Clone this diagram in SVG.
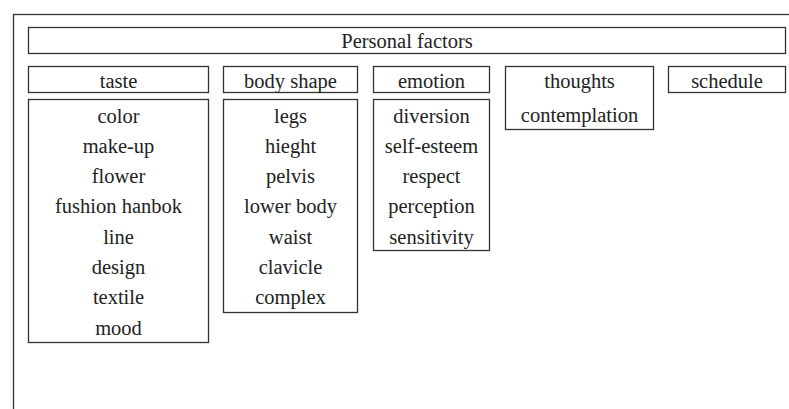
<svg xmlns="http://www.w3.org/2000/svg" width="789" height="409" viewBox="0 0 789 409">
  <style>
    .box { fill: #ffffff; stroke: #333333; stroke-width: 1.3; }
    text { font-size: 20.5px; fill: #222222; text-anchor: middle; }
  </style>
  <rect width="789" height="409" fill="#ffffff"/>
  <!-- outer frame, runs off the right and bottom edges -->
  <rect x="13.5" y="14.5" width="820" height="430" fill="none" stroke="#333333" stroke-width="1.3"/>

  <g font-family="Liberation Serif, DejaVu Serif, serif">
  <g id="personal-factors">
    <rect class="box" x="28.5" y="27.5" width="757" height="26"/>
    <text x="407" y="48">Personal factors</text>
  </g>

  <g id="taste">
    <rect class="box" x="28.5" y="66.5" width="180" height="26"/>
    <text x="118.5" y="88">taste</text>
  </g>
  <g id="taste-items">
    <rect class="box" x="28.5" y="99.5" width="180" height="243"/>
    <text x="118.5" y="122.5">color</text>
    <text x="118.5" y="152.8">make-up</text>
    <text x="118.5" y="183.1">flower</text>
    <text x="118.5" y="213.4">fushion hanbok</text>
    <text x="118.5" y="243.7">line</text>
    <text x="118.5" y="274">design</text>
    <text x="118.5" y="304.3">textile</text>
    <text x="118.5" y="334.6">mood</text>
  </g>

  <g id="body-shape">
    <rect class="box" x="223.5" y="66.5" width="134" height="26"/>
    <text x="290.5" y="88">body shape</text>
  </g>
  <g id="body-shape-items">
    <rect class="box" x="223.5" y="99.5" width="134" height="213"/>
    <text x="290.5" y="122.5">legs</text>
    <text x="290.5" y="152.8">hieght</text>
    <text x="290.5" y="183.1">pelvis</text>
    <text x="290.5" y="213.4">lower body</text>
    <text x="290.5" y="243.7">waist</text>
    <text x="290.5" y="274">clavicle</text>
    <text x="290.5" y="304.3">complex</text>
  </g>

  <g id="emotion">
    <rect class="box" x="373.5" y="66.5" width="116" height="26"/>
    <text x="431.5" y="88">emotion</text>
  </g>
  <g id="emotion-items">
    <rect class="box" x="373.5" y="99.5" width="116" height="151"/>
    <text x="431.5" y="122.5">diversion</text>
    <text x="431.5" y="152.8">self-esteem</text>
    <text x="431.5" y="183.1">respect</text>
    <text x="431.5" y="213.4">perception</text>
    <text x="431.5" y="243.7">sensitivity</text>
  </g>

  <g id="thoughts">
    <rect class="box" x="505.5" y="66.5" width="148" height="63"/>
    <text x="579.5" y="88">thoughts</text>
    <text x="579.5" y="122">contemplation</text>
  </g>

  <g id="schedule">
    <rect class="box" x="668.5" y="66.5" width="117" height="26"/>
    <text x="727" y="88">schedule</text>
  </g>
  </g>
</svg>
